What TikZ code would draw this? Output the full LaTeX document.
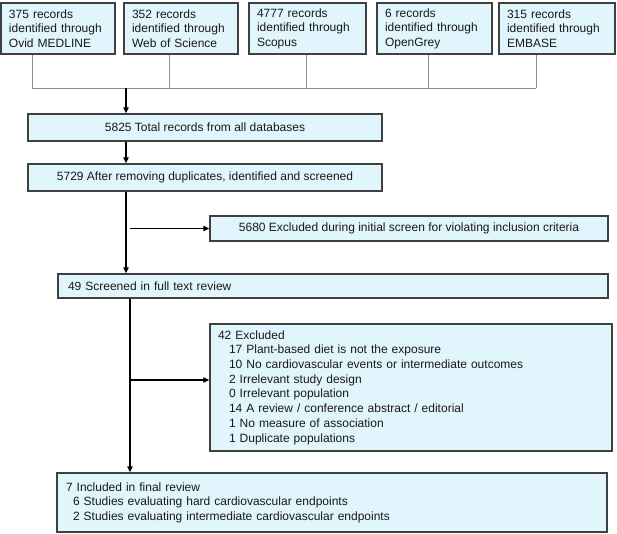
\documentclass[tikz,border=0pt]{standalone}
\usepackage{fontspec}
\setmainfont{Liberation Sans}
\usetikzlibrary{arrows.meta}
\definecolor{boxfill}{HTML}{E1F5FC}
\definecolor{boxdraw}{HTML}{404040}
\definecolor{joincol}{HTML}{8C8C8C}
\begin{document}
\begin{tikzpicture}[x=1pt,y=-1pt,
  box/.style={draw=boxdraw, fill=boxfill, line width=1.4pt, inner ysep=0pt, inner xsep=0pt,
    text=black!90, font=\fontsize{12}{14.5}\selectfont},
  topbox/.style={box, minimum height=51pt, align=left, inner xsep=8pt},
  leftbox/.style={box, align=left},
  joinline/.style={draw=joincol, line width=0.9pt},
  flow/.style={draw=black, line width=1.2pt, -{Triangle[length=6pt,width=5.5pt]}},
  flowline/.style={draw=black, line width=1.2pt}]
\useasboundingbox (0,0) rectangle (617,533);
% top boxes
\node[topbox, text width=98pt] (b1) at (58,28.5) {375 records\\identified through\\Ovid MEDLINE};
\node[topbox, text width=98pt] (b2) at (181,28.5) {352 records\\identified through\\Web of Science};
\node[topbox, text width=101pt] (b3) at (307.5,28.5) {4777 records\\identified through\\Scopus};
\node[topbox, text width=99pt] (b4) at (434.5,28.5) {6 records\\identified through\\OpenGrey};
\node[topbox, text width=100pt] (b5) at (557,28.5) {315 records\\identified through\\EMBASE};
% join points
\coordinate (j1) at (32,88);
\coordinate (j2) at (169,88);
\coordinate (j3) at (306,88);
\coordinate (j4) at (428,88);
\coordinate (j5) at (536,88);
\coordinate (j0) at (126,88);
\draw[joinline] (b1.south -| j1) -- (j1);
\draw[joinline] (b2.south -| j2) -- (j2);
\draw[joinline] (b3.south -| j3) -- (j3);
\draw[joinline] (b4.south -| j4) -- (j4);
\draw[joinline] (b5.south -| j5) -- (j5);
\draw[joinline] (j1) -- (j5);
% main flow
\node[box, minimum width=354pt, minimum height=27pt] (tot) at (205,127.5) {5825 Total records from all databases};
\node[box, minimum width=354pt, minimum height=27pt] (dup) at (205,177.5) {5729 After removing duplicates, identified and screened};
\node[box, minimum width=398pt, minimum height=25pt] (ex1) at (409,228.5) {5680 Excluded during initial screen for violating inclusion criteria};
\node[leftbox, text width=530pt, inner xsep=10pt, minimum height=24pt] (full) at (333,286) {49 Screened in full text review};
\node[leftbox, text width=386pt, inner xsep=8pt, minimum height=127pt, font=\fontsize{12}{14.7}\selectfont] (ex2) at (411,387.5)
  {42 Excluded\\
   \hspace*{11pt}17 Plant-based diet is not the exposure\\
   \hspace*{11pt}10 No cardiovascular events or intermediate outcomes\\
   \hspace*{11pt}2 Irrelevant study design\\
   \hspace*{11pt}0 Irrelevant population\\
   \hspace*{11pt}14 A review / conference abstract / editorial\\
   \hspace*{11pt}1 No measure of association\\
   \hspace*{11pt}1 Duplicate populations};
\node[leftbox, text width=532pt, inner xsep=9pt, minimum height=59pt] (fin) at (332,502.5)
  {7 Included in final review\\
   \hspace*{7pt}6 Studies evaluating hard cardiovascular endpoints\\
   \hspace*{7pt}2 Studies evaluating intermediate cardiovascular endpoints};
% arrows
\draw[flow] (j0) -- (tot.north -| j0);
\draw[flow] (tot.south -| j0) -- (dup.north -| j0);
\draw[flow] (dup.south -| j0) -- (full.north -| j0);
\coordinate (a1) at (130,228.5);
\draw[flow] (a1) -- (ex1.west);
\coordinate (c2) at (130,298);
\draw[flow] (full.south -| c2) -- (fin.north -| c2);
\coordinate (a2) at (130,380);
\draw[flow] (a2) -- (ex2.west |- a2);
\end{tikzpicture}
\end{document}
